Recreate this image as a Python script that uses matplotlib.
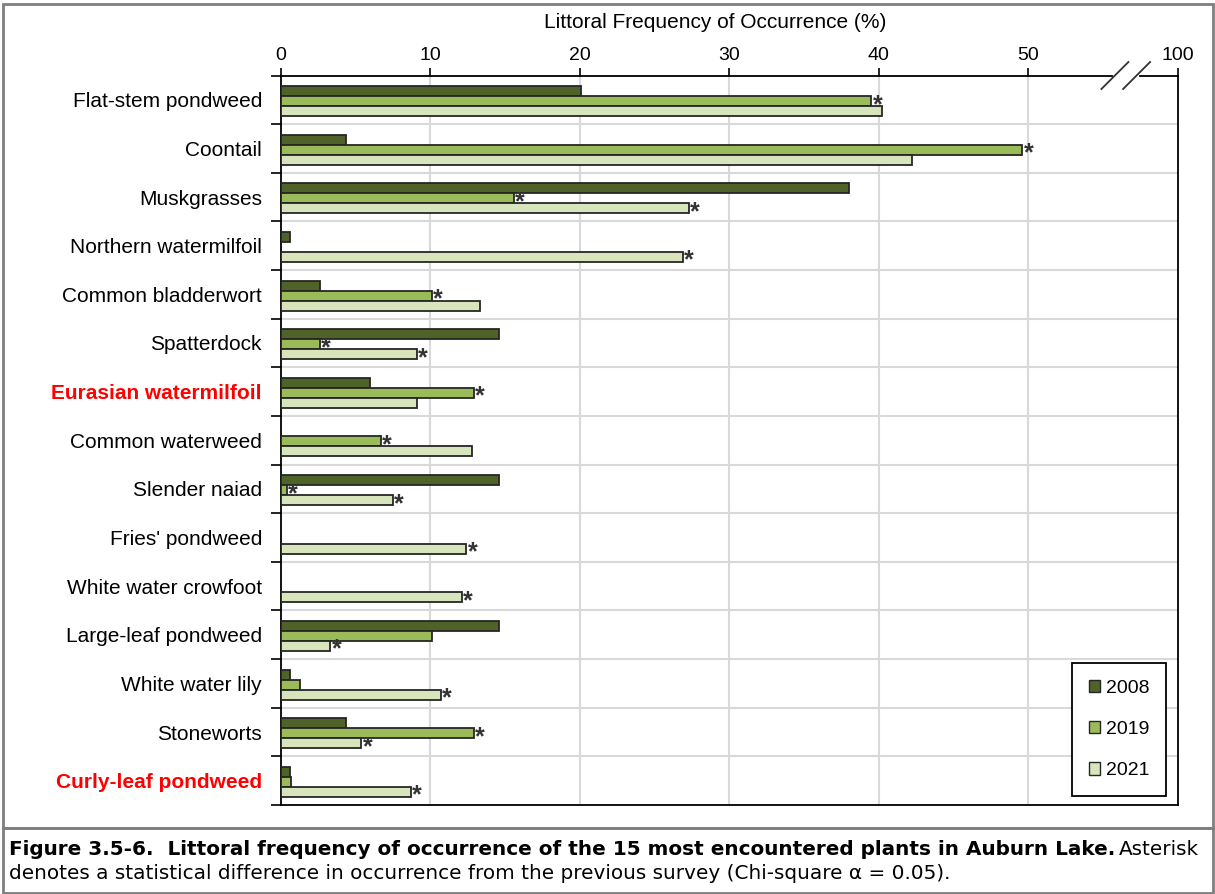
import matplotlib.pyplot as plt
from matplotlib.patches import Rectangle
from matplotlib.lines import Line2D
import matplotlib.transforms as mtransforms
import numpy as np

plt.rcParams['font.family'] = ['Liberation Sans', 'DejaVu Sans']

species = ['Flat-stem pondweed', 'Coontail', 'Muskgrasses', 'Northern watermilfoil',
           'Common bladderwort', 'Spatterdock', 'Eurasian watermilfoil', 'Common waterweed',
           'Slender naiad', "Fries' pondweed", 'White water crowfoot', 'Large-leaf pondweed',
           'White water lily', 'Stoneworts', 'Curly-leaf pondweed']
highlight = ['Eurasian watermilfoil', 'Curly-leaf pondweed']
years = ['2008', '2019', '2021']
freq_2008 = [20.1, 4.4, 38.0, 0.6, 2.6, 14.6, 6.0, 0, 14.6, 0, 0, 14.6, 0.6, 4.4, 0.6]
freq_2019 = [39.5, 49.6, 15.6, 0, 10.1, 2.6, 12.9, 6.7, 0.4, 0, 0, 10.1, 1.3, 12.9, 0.7]
freq_2021 = [40.2, 42.2, 27.3, 26.9, 13.3, 9.1, 9.1, 12.8, 7.5, 12.4, 12.1, 3.3, 10.7, 5.4, 8.7]
# asterisk = significant change from previous survey
sig_2008 = [0] * 15
sig_2019 = [1, 1, 1, 0, 1, 1, 1, 1, 1, 0, 0, 0, 0, 1, 0]
sig_2021 = [0, 0, 1, 1, 0, 1, 0, 0, 1, 1, 1, 1, 1, 1, 1]
xticks = [0, 10, 20, 30, 40, 50, 60]
xticklabels = ['0', '10', '20', '30', '40', '50', '100']

colors = ['#4F6228', '#9BBB59', '#D7E4BC']
edge = '#262626'

W, H = 1215, 894
fig = plt.figure(figsize=(W / 100, H / 100), dpi=100)
ax = fig.add_axes([280.7 / W, 1 - 805 / H, (1177.7 - 280.7) / W, (805 - 75.5) / H])

n = len(species)
rows = np.arange(n)
bar_h = 0.205
offsets = [0.32, 0.525, 0.73]

for k, (vals, sig) in enumerate(zip([freq_2008, freq_2019, freq_2021],
                                     [sig_2008, sig_2019, sig_2021])):
    vals = np.array(vals, dtype=float)
    lws = [1.3 if v > 0 else 0 for v in vals]
    ax.barh(rows + offsets[k], vals, height=bar_h, color=colors[k], edgecolor=edge,
            linewidth=lws, label=years[k], zorder=3)
    for i in range(n):
        if sig[i]:
            ax.annotate('*', xy=(vals[i], rows[i] + offsets[k]), xytext=(1.0, -7.8),
                        textcoords='offset points', ha='left', va='baseline',
                        fontsize=18, fontweight='bold', color='#333333', zorder=4)

ax.set_xlim(0, 60)
ax.set_ylim(n, 0)

ax.xaxis.tick_top()
ax.set_xticks(xticks)
ax.set_xticklabels(xticklabels, fontsize=14)
ax.tick_params(axis='x', direction='out', length=6, width=1.2, pad=2.5, color='black')

ax.set_yticks(np.arange(n + 1))
ax.set_yticklabels([])
ax.set_yticks(rows + 0.5, minor=True)
ax.set_yticklabels(species, minor=True, fontsize=15)
ax.tick_params(axis='y', which='major', direction='out', length=7, width=1.2)
ax.tick_params(axis='y', which='minor', length=0, pad=13.5)
for lab in ax.get_yticklabels(minor=True):
    if lab.get_text() in highlight:
        lab.set_color('#FF0000')
        lab.set_fontweight('bold')

# gridlines
for x in xticks[1:-1]:
    ax.axvline(x, color='#D9D9D9', lw=1.5, zorder=1)
for y in range(1, n):
    ax.axhline(y, color='#D9D9D9', lw=1.5, zorder=1)

for s in ax.spines.values():
    s.set_color('black')
    s.set_linewidth(1.3)

# axis break on top axis
trans = mtransforms.blended_transform_factory(ax.transData, fig.transFigure)
brk = [55.8, 57.25]
ax.add_line(Line2D(brk, [1 - 75.5 / H, 1 - 75.5 / H], transform=trans,
                   color='white', lw=3, clip_on=False, zorder=10))
px = 1 / 14.95
for x0 in brk:
    ax.add_line(Line2D([x0 - 13.5 * px, x0 + 13.5 * px],
                       [1 - 89 / H, 1 - 62 / H], transform=trans,
                       color='#333333', lw=1.3, clip_on=False, zorder=11))

fig.text(715.5 / W, 1 - 22 / H, 'Littoral Frequency of Occurrence (%)', ha='center',
         va='center', fontsize=15)

leg = ax.legend(loc='upper left', bbox_to_anchor=(1072 / W, 1 - 663 / H),
                bbox_transform=fig.transFigure, fontsize=14, frameon=True, fancybox=False,
                handlelength=0.6, handleheight=0.6, handletextpad=0.3, labelspacing=1.25,
                borderpad=0.85, borderaxespad=0, framealpha=1)
leg.get_frame().set_edgecolor('black')
leg.get_frame().set_linewidth(1.3)
leg.set_zorder(20)
for hnd in leg.legend_handles:
    hnd.set_linewidth(1)

# outer boxes
fig.patches.append(Rectangle((3 / W, 1 - 828 / H), (1213 - 3) / W, (828 - 4) / H,
                             transform=fig.transFigure, fill=False, edgecolor='#7F7F7F', lw=2))
fig.patches.append(Rectangle((3 / W, 1 - 893 / H), (1213 - 3) / W, (893 - 828) / H,
                             transform=fig.transFigure, fill=False, edgecolor='#7F7F7F', lw=2))

# caption
cap_font = ['DejaVu Sans']
cap_fs = 14.4
bold = fig.text(9 / W, 1 - 855 / H,
                'Figure 3.5-6.  Littoral frequency of occurrence of the 15 most encountered plants in Auburn Lake.',
                fontsize=cap_fs, fontweight='bold', family=cap_font, ha='left', va='baseline')
fig.canvas.draw()
bb = bold.get_window_extent()
fig.text(bb.x1 / W + 4 / W, 1 - 855 / H, 'Asterisk', fontsize=cap_fs, family=cap_font,
         ha='left', va='baseline')
fig.text(9 / W, 1 - 879 / H,
         'denotes a statistical difference in occurrence from the previous survey (Chi-square \u03b1 = 0.05).',
         fontsize=cap_fs, family=cap_font, ha='left', va='baseline')

fig.savefig('out.png', dpi=100)
